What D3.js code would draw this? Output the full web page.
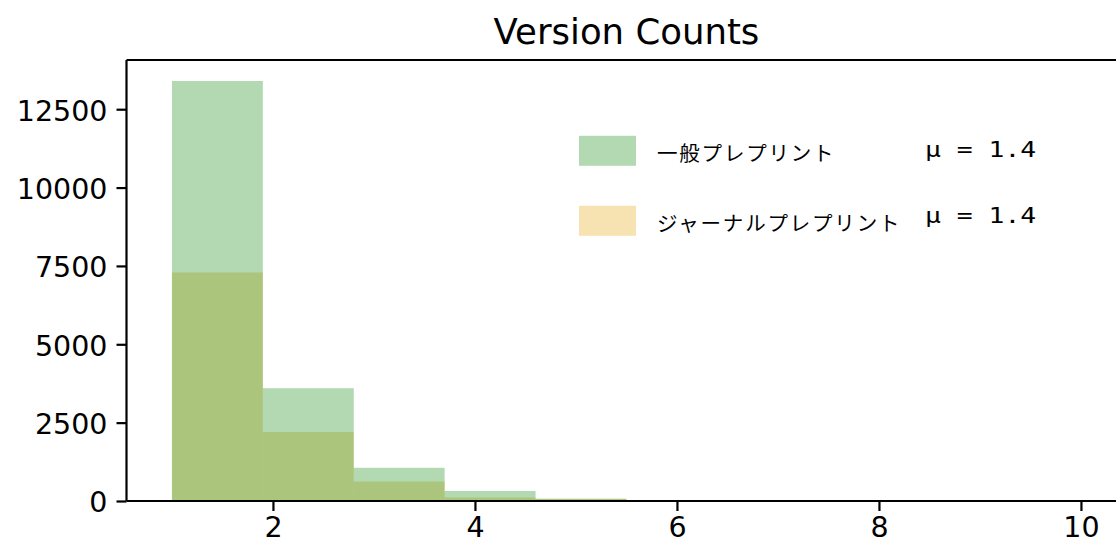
<!DOCTYPE html>
<html><head><meta charset="utf-8">
<script src="https://cdn.jsdelivr.net/npm/d3@7"></script>
<style>body{margin:0;background:#fff}svg{display:block}</style>
</head><body>
<script>
const binEdges = [1, 1.9, 2.8, 3.7, 4.6, 5.5, 6.4, 7.3, 8.2, 9.1, 10];
const generalCounts = [13400, 3600, 1060, 320, 75, 20, 8, 4, 2, 1];
const journalCounts = [7290, 2200, 620, 110, 65, 15, 6, 3, 1, 1];
const seriesNames = ["一般プレプリント", "ジャーナルプレプリント"];
const seriesMeans = ["μ = 1.4", "μ = 1.4"];
const xTicks = [2, 4, 6, 8, 10];
const yTicks = [0, 2500, 5000, 7500, 10000, 12500];
const titleText = "Version Counts";

const W = 1116, H = 551;
const svg = d3.select("body").append("svg").attr("width", W).attr("height", H);

const x = d3.scaleLinear().domain([0.55, 10.45]).range([126.5, 1126.4]);
const y = d3.scaleLinear().domain([0, 14070]).range([501, 60]);

const colors = {general: "#008000", journal: "#e69f00"};

function bars(counts, color) {
  svg.append("g").selectAll("rect").data(counts).join("rect")
    .attr("x", (d, i) => x(binEdges[i]))
    .attr("width", (d, i) => x(binEdges[i + 1]) - x(binEdges[i]))
    .attr("y", d => y(d))
    .attr("height", d => y(0) - y(d))
    .attr("fill", color).attr("fill-opacity", 0.3);
}
bars(journalCounts, colors.journal);
bars(generalCounts, colors.general);

// axes
const xAxis = svg.append("g").attr("transform", `translate(0,${y(0)})`)
  .call(d3.axisBottom(x).tickValues(xTicks).tickFormat(d3.format("d")).tickSize(10).tickPadding(6));
const yAxis = svg.append("g").attr("transform", `translate(${x(0.55)},0)`)
  .call(d3.axisLeft(y).tickValues(yTicks).tickFormat(d3.format("d")).tickSize(10).tickPadding(9));
[xAxis, yAxis].forEach(g => {
  g.select(".domain").attr("stroke", "#000").attr("stroke-width", 2.2);
  g.selectAll(".tick line").attr("stroke", "#000").attr("stroke-width", 2.2);
  g.selectAll(".tick text").attr("fill", "#000")
    .style("font-family", "'DejaVu Sans', sans-serif").style("font-size", "28.5px");
});
xAxis.select(".domain").attr("d", `M${x(0.55)},0H${x(10.45)}`);
yAxis.select(".domain").attr("d", `M0,${y(0)}V${y(14070)}`);
yAxis.selectAll(".tick text").attr("dy", "0.38em");
// top spine
svg.append("line").attr("x1", x(0.55)).attr("x2", x(10.45))
  .attr("y1", y(14070)).attr("y2", y(14070)).attr("stroke", "#000").attr("stroke-width", 2.2);

// title
svg.append("text").attr("x", (x(0.55) + x(10.45)) / 2).attr("y", 43.5)
  .attr("text-anchor", "middle").attr("fill", "#000")
  .style("font-family", "'DejaVu Sans', sans-serif").style("font-size", "35.5px")
  .text(titleText);

// legend
const legendRows = [
  {name: seriesNames[0], mean: seriesMeans[0], color: colors.general, cy: 150.8, mb: 156.5},
  {name: seriesNames[1], mean: seriesMeans[1], color: colors.journal, cy: 220.8, mb: 222.5}
];
const lg = svg.append("g");
legendRows.forEach(r => {
  lg.append("rect").attr("x", 579).attr("y", r.cy - 15).attr("width", 57).attr("height", 30)
    .attr("fill", r.color).attr("fill-opacity", 0.3);
  lg.append("text").attr("x", 657).attr("y", r.cy + 1).attr("dominant-baseline", "central")
    .attr("fill", "#000")
    .style("font-family", "'Noto Sans CJK JP', sans-serif").style("font-size", "20.5px")
    .style("letter-spacing", "1.8px")
    .text(r.name);
  lg.append("text").attr("transform", `translate(925,${r.mb}) scale(1.2,1)`).attr("fill", "#000")
    .style("font-family", "'DejaVu Sans Mono', monospace").style("font-size", "22px")
    .attr("xml:space", "preserve")
    .text(r.mean);
});
</script>
</body></html>
